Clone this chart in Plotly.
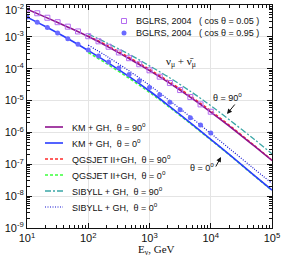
import plotly.graph_objects as go

# ---- data (log10 of flux values) ----
E_full = [10, 20, 50, 100, 200, 500, 1e3, 2e3, 5e3, 1e4, 2e4, 5e4, 1e5]
E_hi = [100, 200, 500, 1e3, 2e3, 5e3, 1e4, 2e4, 5e4, 1e5]

km_90 = [-2.13, -2.38, -2.72, -2.99, -3.29, -3.72, -4.06, -4.42, -4.94, -5.36, -5.80, -6.41, -6.88]
km_0 = [-2.38, -2.675, -3.09, -3.43, -3.785, -4.29, -4.70, -5.14, -5.745, -6.215, -6.69, -7.33, -7.81]
qgs_90 = [-2.97, -3.26, -3.68, -4.02, -4.38, -4.90, -5.32, -5.77, -6.39, -6.87]
qgs_0 = [-3.49, -3.84, -4.34, -4.74, -5.17, -5.77, -6.23, -6.70, -7.34, -7.82]
sib_90 = [-2.91, -3.19, -3.58, -3.91, -4.25, -4.75, -5.16, -5.60, -6.20, -6.67]
sib_0 = [-3.26, -3.61, -4.11, -4.52, -4.96, -5.56, -6.03, -6.50, -7.13, -7.60]

E_bglrs = [10, 14.7, 21.5, 31.6, 46.4, 68.1, 100, 147, 215, 316, 464, 681,
           1000, 1468, 2154, 3162, 4642, 6813, 10000]
bglrs_005 = [-2.12, -2.26, -2.40, -2.54, -2.68, -2.83, -2.98, -3.14, -3.31, -3.49,
             -3.67, -3.86, -4.05, -4.25, -4.45, -4.67, -4.89, -5.12, -5.35]
bglrs_095 = [-2.38, -2.54, -2.71, -2.88, -3.06, -3.23, -3.41, -3.60, -3.79, -3.98,
             -4.18, -4.38, -4.59, -4.82, -5.05, -5.29, -5.54, -5.77, -6.02]

y_tickvals = [-9, -8, -7, -6, -5, -4, -3, -2]
y_ticktext = ["10<sup>-9</sup>", "10<sup>-8</sup>", "10<sup>-7</sup>", "10<sup>-6</sup>",
              "10<sup>-5</sup>", "10<sup>-4</sup>", "10<sup>-3</sup>", ""]
y_top_label = "10<sup>-2</sup>"
x_tickvals = [10, 100, 1000, 10000, 100000]
x_ticktext = ["10<sup>1</sup>", "10<sup>2</sup>", "10<sup>3</sup>", "10<sup>4</sup>", "10<sup>5</sup>"]

line_labels = ["KM + GH,  θ = 90<sup>o</sup>", "KM + GH,  θ = 0<sup>o</sup>",
               "QGSJET II+GH,  θ = 90<sup>o</sup>", "QGSJET II+GH,  θ = 0<sup>o</sup>",
               "SIBYLL + GH,  θ = 90<sup>o</sup>", "SIBYLL + GH,  θ = 0<sup>o</sup>"]
marker_labels = ["BGLRS, 2004   ( cos θ = 0.05 )", "BGLRS, 2004   ( cos θ = 0.95 )"]

def p10(v):
    return [10 ** a for a in v]

W, H = 281, 264
L, R, T, B = 27, 9, 5, 36
pw, ph = W - L - R, H - T - B
def px(x):
    return (x - L) / pw
def py(y):
    return (H - B - y) / ph

PURPLE = "#8e128e"
BLUE = "#2a3cff"
RED = "#ff2a2a"
GREEN = "#3cff3c"
CYAN = "#3aa6a6"
DBLUE = "#1010d0"
SQ = "#b46cf0"
CIRC = "#6a6aff"

styles = [
    dict(color=PURPLE, width=1.6, dash="solid"),
    dict(color=BLUE, width=1.6, dash="solid"),
    dict(color=RED, width=1.4, dash="3px,2px"),
    dict(color=GREEN, width=1.6, dash="3px,2px"),
    dict(color=CYAN, width=1.3, dash="6px,2px,2px,2px"),
    dict(color=DBLUE, width=1.2, dash="1px,1.5px"),
]

fig = go.Figure()
series = [(E_full, km_90), (E_full, km_0), (E_hi, qgs_90), (E_hi, qgs_0), (E_hi, sib_90), (E_hi, sib_0)]
order = [3, 5, 2, 4, 0, 1]
for i in order:
    xs, ys = series[i]
    fig.add_trace(go.Scatter(x=xs, y=p10(ys), mode="lines", line=styles[i],
                             line_shape="spline", showlegend=False))

fig.add_trace(go.Scatter(x=E_bglrs, y=p10(bglrs_005), mode="markers", showlegend=False,
                         marker=dict(symbol="square-open", size=5, color=SQ, line=dict(width=1))))
fig.add_trace(go.Scatter(x=E_bglrs, y=p10(bglrs_095), mode="markers", showlegend=False,
                         marker=dict(symbol="circle", size=5, color=CIRC)))

# ---- legend (drawn on an overlay axis in paper-like coordinates) ----
rows = [127, 143, 159, 175, 191, 207]
for i, r in enumerate(rows):
    fig.add_trace(go.Scatter(x=[px(45), px(63)], y=[py(r), py(r)], mode="lines", line=styles[i],
                             xaxis="x2", yaxis="y2", showlegend=False, hoverinfo="skip"))
    fig.add_annotation(x=px(70), y=py(r), xref="paper", yref="paper", text=line_labels[i],
                       showarrow=False, xanchor="left", yanchor="middle",
                       font=dict(family="Liberation Sans, Arial", size=9, color="#111"))

top_rows = [21, 33]
fig.add_trace(go.Scatter(x=[px(124)], y=[py(top_rows[0])], mode="markers", xaxis="x2", yaxis="y2",
                         showlegend=False, hoverinfo="skip",
                         marker=dict(symbol="square-open", size=5, color=SQ, line=dict(width=1))))
fig.add_trace(go.Scatter(x=[px(124)], y=[py(top_rows[1])], mode="markers", xaxis="x2", yaxis="y2",
                         showlegend=False, hoverinfo="skip",
                         marker=dict(symbol="circle", size=5, color=CIRC)))
for i, r in enumerate(top_rows):
    fig.add_annotation(x=px(134), y=py(r), xref="paper", yref="paper", text=marker_labels[i],
                       showarrow=False, xanchor="left", yanchor="middle",
                       font=dict(family="Liberation Sans, Arial", size=9, color="#111"))

# top y tick label (drawn slightly below the frame edge, as in the original)
fig.add_annotation(x=px(26), y=py(9), xref="paper", yref="paper", text=y_top_label,
                   showarrow=False, xanchor="right", yanchor="middle",
                   font=dict(family="Liberation Sans, Arial", size=11, color="#111"))

# text labels
fig.add_annotation(x=px(181), y=py(53), xref="paper", yref="paper",
                   text="ν<sub>μ</sub> + ν̄<sub>μ</sub>", showarrow=False,
                   font=dict(family="Liberation Serif, Times New Roman", size=11, color="#111"))
fig.add_annotation(x=px(244), y=py(97), xref="paper", yref="paper",
                   text="θ = 90<sup>o</sup>", showarrow=False,
                   font=dict(family="Liberation Sans, Arial", size=9, color="#111"))
fig.add_annotation(x=px(227), y=py(114), xref="paper", yref="paper", text="",
                   showarrow=True, ax=9, ay=-11, arrowhead=2, arrowsize=1, arrowwidth=1,
                   arrowcolor="#111")
fig.add_annotation(x=px(216), y=py(175), xref="paper", yref="paper",
                   text="θ = 0<sup>o</sup>", showarrow=False,
                   font=dict(family="Liberation Sans, Arial", size=9, color="#111"))
fig.add_annotation(x=px(221), y=py(157), xref="paper", yref="paper", text="",
                   showarrow=True, ax=-6, ay=11, arrowhead=2, arrowsize=1, arrowwidth=1,
                   arrowcolor="#111")
fig.add_annotation(x=px(156), y=py(241), xref="paper", yref="paper",
                   text="E<sub>ν</sub>, GeV", showarrow=False, yanchor="top",
                   font=dict(family="Liberation Serif, Times New Roman", size=11, color="#111"))

axis_common = dict(showline=True, linecolor="#111", linewidth=1, mirror="allticks",
                   ticks="inside", ticklen=5, tickcolor="#111", tickwidth=1,
                   showgrid=True, gridcolor="#e4e4e4", gridwidth=1, zeroline=False,
                   automargin=False,
                   tickfont=dict(family="Liberation Sans, Arial", size=11, color="#111"))

fig.update_layout(
    width=W, height=H, margin=dict(l=L, r=R, t=T, b=B),
    paper_bgcolor="white", plot_bgcolor="white", showlegend=False,
    xaxis=dict(type="log", range=[1, 5], tickmode="array", tickvals=x_tickvals,
               ticktext=x_ticktext, ticklabelstandoff=0,
               minor=dict(ticks="inside", ticklen=3, tickcolor="#111", dtick="D1", showgrid=False),
               **axis_common),
    yaxis=dict(type="log", range=[-9, -2], tickmode="array", tickvals=p10(y_tickvals),
               ticktext=y_ticktext, ticklabelstandoff=0,
               minor=dict(ticks="inside", ticklen=3, tickcolor="#111", dtick="D1", showgrid=False),
               **axis_common),
    xaxis2=dict(range=[0, 1], overlaying="x", visible=False, anchor="y2", automargin=False),
    yaxis2=dict(range=[0, 1], overlaying="y", visible=False, anchor="x2", automargin=False),
)

fig.write_html("out.html", config={"displayModeBar": False},
               post_script="document.body.style.margin='0';document.body.style.overflow='hidden';")
